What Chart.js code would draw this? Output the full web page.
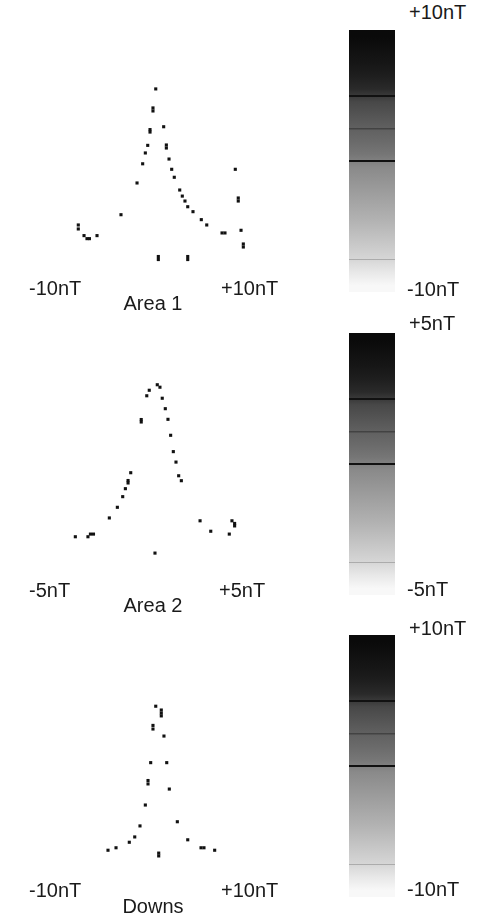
<!DOCTYPE html>
<html>
<head>
<meta charset="utf-8">
<script src="https://cdn.jsdelivr.net/npm/chart.js@4.4.1/dist/chart.umd.min.js"></script>
<style>
  html, body { margin: 0; padding: 0; background: #fff; }
  body { width: 493px; height: 921px; position: relative; overflow: hidden;
         font-family: "Liberation Sans", Arial, sans-serif; color: #1a1a1a; }
  canvas { position: absolute; }
  .lbl { position: absolute; font-size: 20px; line-height: 20px; white-space: nowrap; }
  .ttl { position: absolute; font-size: 20px; line-height: 20px; width: 120px; text-align: center; }
</style>
</head>
<body>
<canvas id="scatter1" width="211" height="210" style="left:47px;top:70px"></canvas>
<canvas id="scatter2" width="211" height="210" style="left:47px;top:370px"></canvas>
<canvas id="scatter3" width="211" height="210" style="left:47px;top:670px"></canvas>
<canvas id="bar1" width="46" height="262" style="left:349px;top:30px"></canvas>
<canvas id="bar2" width="46" height="262" style="left:349px;top:333px"></canvas>
<canvas id="bar3" width="46" height="262" style="left:349px;top:635px"></canvas>

<div class="lbl" style="left:29px;top:278px">-10nT</div>
<div class="lbl" style="left:221px;top:278px">+10nT</div>
<div class="ttl" style="left:93px;top:293px">Area 1</div>
<div class="lbl" style="left:409px;top:2px">+10nT</div>
<div class="lbl" style="left:407px;top:279px">-10nT</div>

<div class="lbl" style="left:29px;top:580px">-5nT</div>
<div class="lbl" style="left:219px;top:580px">+5nT</div>
<div class="ttl" style="left:93px;top:595px">Area 2</div>
<div class="lbl" style="left:409px;top:313px">+5nT</div>
<div class="lbl" style="left:407px;top:579px">-5nT</div>

<div class="lbl" style="left:29px;top:880px">-10nT</div>
<div class="lbl" style="left:221px;top:880px">+10nT</div>
<div class="ttl" style="left:93px;top:896px">Downs</div>
<div class="lbl" style="left:409px;top:618px">+10nT</div>
<div class="lbl" style="left:407px;top:879px">-10nT</div>

<script>
// field value (nT) and relative count for each point
const area1X = [0.34, 0.05, 0.05, -0.26, -0.26, 1.17, -0.50, -0.75, -1.03, -1.62, -3.30, -7.77, -7.77, -7.17, -6.86, -6.60, -5.81,
    1.45, 1.45, 1.73, 2.01, 2.28, 2.85, 3.12, 3.40, 3.69, 4.24, 5.11, 5.68, 7.28, 7.59, 8.67, 8.98, 8.98, 9.27, 9.51, 9.51, 0.61, 0.61, 3.69, 3.69];
const area1Y = [95.3, 85.3, 83.7, 73.9, 72.6, 75.4, 65.6, 61.6, 55.9, 45.8, 29.1, 23.7, 21.6, 18.1, 16.5, 16.5, 18.1,
    65.8, 64.2, 58.4, 53.0, 48.8, 42.1, 38.9, 36.3, 33.3, 30.7, 26.5, 23.7, 19.5, 19.5, 53.0, 37.9, 36.3, 20.9, 13.7, 12.1, 7.1, 5.5, 7.1, 5.5];

const area2X = [0.25, 0.39, -0.17, -0.30, 0.51, 0.67, 0.81, -0.59, -0.59, 0.95, 1.09, 1.23, 1.37, 1.51, -1.14, -1.28, -1.28,
    -1.42, -1.56, -1.84, -2.26, -3.25, -3.09, -3.38, -4.04, 2.49, 3.05, 4.02, 4.16, 4.30, 4.30, 0.13];
const area2Y = [97.5, 96.2, 94.6, 91.7, 90.4, 84.9, 79.3, 79.2, 77.9, 70.9, 62.3, 56.8, 49.6, 47.0, 51.2, 47.1, 45.8,
    42.8, 38.6, 33.0, 27.4, 18.9, 18.9, 17.5, 17.5, 25.9, 20.4, 18.9, 25.9, 24.5, 23.2, 8.9];

const downsX = [0.34, 0.92, 0.92, 0.92, 0.05, 0.05, 1.20, -0.19, 1.49, -0.47, -0.47, 1.76, -0.75, -1.31, 2.60, -1.86, -2.43,
    -3.82, -4.66, 3.69, 5.08, 5.39, 6.51, 0.65, 0.65];
const downsY = [86.2, 84.2, 82.6, 81.1, 76.1, 74.2, 70.5, 56.5, 56.5, 47.1, 45.3, 42.6, 34.2, 23.2, 25.4, 17.4, 14.6,
    11.7, 10.4, 15.9, 11.7, 11.7, 10.4, 8.9, 7.4];

const ranges = [10, 5, 10]; // +/- nT for each panel

// colour bar: grey level, top (+max) to bottom (-max)
const barGrays = [10, 16, 22, 30, 42, 72, 84, 96, 106, 118, 138, 148, 158, 168, 178, 190, 202, 214, 232, 248];
// contour lines on the colour bar, as fraction of the range
const barLines = [0.5, 0.25, 0, -0.75];
const barLineColors = ['#111', 'rgba(30,30,30,0.45)', '#111', 'rgba(120,120,120,0.45)'];
const barLineWidths = [2, 1.5, 2, 1];

function makeScatter(id, xs, ys, range) {
    const pts = xs.map((x, i) => ({ x: x, y: ys[i] }));
    new Chart(document.getElementById(id), {
        type: 'scatter',
        data: {
            datasets: [{
                data: pts,
                pointStyle: 'rect',
                pointRadius: 2.2,
                borderWidth: 0,
                backgroundColor: '#111'
            }]
        },
        options: {
            responsive: false,
            animation: false,
            layout: { padding: 10 },
            plugins: { legend: { display: false }, tooltip: { enabled: false } },
            scales: {
                x: { type: 'linear', min: -range, max: range, display: false },
                y: { type: 'linear', min: 0, max: 100, display: false }
            }
        }
    });
}

function barGradient(ctx) {
    const area = ctx.chart.chartArea;
    if (!area) return '#888';
    const g = ctx.chart.ctx.createLinearGradient(0, area.top, 0, area.bottom);
    const n = barGrays.length;
    g.addColorStop(0, `rgb(${barGrays[0]},${barGrays[0]},${barGrays[0]})`);
    barGrays.forEach((v, i) => g.addColorStop((i + 0.5) / n, `rgb(${v},${v},${v})`));
    g.addColorStop(1, `rgb(${barGrays[n - 1]},${barGrays[n - 1]},${barGrays[n - 1]})`);
    return g;
}

function lineIndex(ctx, range) {
    return barLines.findIndex(f => Math.abs(f * range - ctx.tick.value) < 1e-6);
}

function makeColorBar(id, range) {
    new Chart(document.getElementById(id), {
        type: 'bar',
        data: {
            labels: [''],
            datasets: [{
                data: [[-range, range]],
                backgroundColor: barGradient,
                borderWidth: 0,
                barPercentage: 1,
                categoryPercentage: 1
            }]
        },
        options: {
            responsive: false,
            animation: false,
            layout: { padding: 0 },
            plugins: { legend: { display: false }, tooltip: { enabled: false } },
            scales: {
                x: { display: false },
                y: {
                    min: -range, max: range,
                    border: { display: false },
                    ticks: { display: false, padding: 0, stepSize: range / 4 },
                    grid: {
                        z: 1,
                        drawTicks: false,
                        color: ctx => {
                            const k = lineIndex(ctx, range);
                            return k < 0 ? 'rgba(0,0,0,0)' : barLineColors[k];
                        },
                        lineWidth: ctx => {
                            const k = lineIndex(ctx, range);
                            return k < 0 ? 0 : barLineWidths[k];
                        }
                    }
                }
            }
        }
    });
}

makeScatter('scatter1', area1X, area1Y, ranges[0]);
makeScatter('scatter2', area2X, area2Y, ranges[1]);
makeScatter('scatter3', downsX, downsY, ranges[2]);
makeColorBar('bar1', ranges[0]);
makeColorBar('bar2', ranges[1]);
makeColorBar('bar3', ranges[2]);
</script>
</body>
</html>
